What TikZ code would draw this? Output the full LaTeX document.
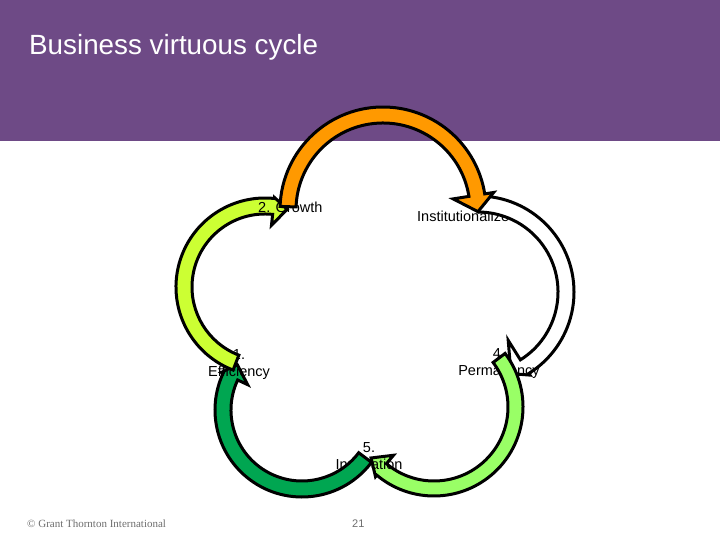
\documentclass[tikz,border=0pt]{standalone}
\usepackage{fontspec}
\setmainfont{Liberation Sans}
\newfontfamily\footserif{Liberation Serif}
\usetikzlibrary{calc}
\definecolor{gtpurple}{RGB}{110,74,134}
\definecolor{arrorange}{RGB}{255,153,0}
\definecolor{arrlime}{RGB}{204,255,51}
\definecolor{arrlight}{RGB}{153,255,102}
\definecolor{arrdark}{RGB}{0,166,81}
\definecolor{footgray}{RGB}{110,110,110}
\begin{document}
\begin{tikzpicture}[x=1pt,y=1pt,
  cyc/.style={draw=black, line width=3pt, line join=miter, miter limit=6},
  lbl/.style={font=\fontsize{14.5}{17}\selectfont, inner sep=0pt, text=black}]
\useasboundingbox (0,0) rectangle (720,540);
\fill[white] (0,0) rectangle (720,540);
\fill[gtpurple] (0,398.5) rectangle (720,540);
\node[anchor=base west, inner sep=0pt, text=white, font=\fontsize{27.8}{30}\selectfont] (title) at (29,485) {Business virtuous cycle};

% centres of the five curved arrows
\coordinate (cI) at (383,330);
\coordinate (cG) at (265,253);
\coordinate (cP) at (478,248);
\coordinate (cN) at (434,133);
\coordinate (cE) at (302,130);

\node[lbl, anchor=base west] (instit) at (417,318) {Institutionalize};

% white arrow: Institutionalize -> Permanency
\draw[cyc, fill=white]
  ($(cP)+(90:96pt)$) arc[start angle=90, end angle=-58, radius=96pt]
  -- ($(cP)+(-58:98pt)$) -- ($(cP)+(-68:88pt)$) -- ($(cP)+(-58:57pt)$)
  -- ($(cP)+(-58:80pt)$) arc[start angle=-58, end angle=90, radius=80pt] -- cycle;

\node[lbl, anchor=base] (n4) at (499,181) {4.};
\node[lbl, anchor=base] (perm) at (499,164) {Permanency};

% light green arrow: Permanency -> Innovation
\draw[cyc, fill=arrlight]
  ($(cN)+(37:89pt)$) arc[start angle=37, end angle=-130, radius=89pt]
  -- ($(cN)+(-130:91pt)$) -- ($(cN)+(-141:81pt)$) -- ($(cN)+(-130:63pt)$)
  -- ($(cN)+(-130:74pt)$) arc[start angle=-130, end angle=37, radius=74pt] -- cycle;

\node[lbl, anchor=base] (n5) at (369,87) {5.};
\node[lbl, anchor=base] (innov) at (369,70) {Innovation};

% dark green arrow: Innovation -> Efficiency
\draw[cyc, fill=arrdark]
  ($(cE)+(-37:87pt)$) arc[start angle=-37, end angle=-205, radius=87pt]
  -- ($(cE)+(-205:89pt)$) -- ($(cE)+(-215:79pt)$) -- ($(cE)+(-205:60pt)$)
  -- ($(cE)+(-205:71pt)$) arc[start angle=-205, end angle=-37, radius=71pt] -- cycle;

\node[lbl, anchor=base] (n1) at (239,180) {1.};
\node[lbl, anchor=base] (effic) at (239,163) {Efficiency};

% lime arrow: Efficiency -> Growth
\draw[cyc, fill=arrlime]
  ($(cG)+(249:89pt)$) arc[start angle=249, end angle=84, radius=89pt]
  -- ($(cG)+(84:90pt)$) -- ($(cG)+(74:81pt)$) -- ($(cG)+(84:62pt)$)
  -- ($(cG)+(84:73pt)$) arc[start angle=84, end angle=249, radius=73pt] -- cycle;

\node[lbl, anchor=base west] (growth) at (258,327) {2. Growth};

% orange arrow: Growth -> Institutionalize
\draw[cyc, fill=arrorange]
  ($(cI)+(178:103pt)$) arc[start angle=178, end angle=9, radius=103pt]
  -- ($(cI)+(9:112pt)$) -- ($(cI)+(-1:95pt)$) -- ($(cI)+(9:71pt)$)
  -- ($(cI)+(9:87pt)$) arc[start angle=9, end angle=178, radius=87pt] -- cycle;

% footer
\node[anchor=base west, inner sep=0pt, text=footgray, font=\footserif\fontsize{11}{13}\selectfont] (copy) at (27,12) {\textcopyright{} Grant Thornton International};
\node[anchor=base west, inner sep=0pt, text=footgray, font=\fontsize{11}{13}\selectfont] (page) at (352,12) {21};
\end{tikzpicture}
\end{document}
